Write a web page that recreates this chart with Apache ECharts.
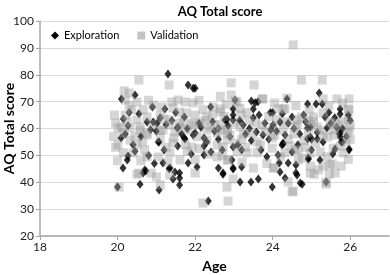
<!DOCTYPE html>
<html><head><meta charset="utf-8">
<script src="https://cdn.jsdelivr.net/npm/echarts@6/dist/echarts.min.js"></script>
<style>html,body{margin:0;padding:0;background:#fff}#c{width:390px;height:275px}</style>
</head><body><div id="c"></div>
<script>
var chartTitle = "AQ Total score";
var xName = "Age";
var yName = "AQ Total score";
var seriesNames = ["Exploration", "Validation"];
var xTicks = [18, 20, 22, 24, 26];
var yTicks = [20, 30, 40, 50, 60, 70, 80, 90, 100];

var exploration = [
[21.3,80.3],[21.82,76.2],[21.95,75],[20.45,72.5],[20.1,71],[22.0,75],[23.03,70.6],[23.45,70.2],[23.55,69.6],[23.62,70],
[23.94,66],[22.98,67.3],[22.98,65],[22.98,63.2],[25.2,73.2],[24.37,71],[24.9,69.1],[25.12,69.1],[25.28,69.1],[25.74,67.3],
[25.74,65.4],[24.5,64.3],[20.14,45.3],[20.25,48.3],[20.58,39.3],[21.07,37.1],[21.6,43.4],[21.6,41.6],[21.6,39],[21.43,41.2],
[21.33,45],[20.73,44.2],[20.0,38.2],[21.07,55],[21.82,47.2],[21.17,47.2],[22.34,33],[23.16,40.1],[23.44,40.1],[23.63,41.2],
[23.99,38.2],[22.72,43],[22.98,45.3],[22.6,45.3],[22.05,45.7],[24.76,39.3],[25.38,40.1],[24.6,43.4],[24.32,41.6],[25.22,48.3],
[25.97,52],[23.5,67.3],[25.35,64.3],[22.82,63.5],[23.75,57.6],[23.24,61.3],[24.9,60.2],[24.97,56.8],[25.74,58.3],[21.22,67.3],
[21.72,64.3],[20.27,61],[20.76,62.4],[20.92,62.4],[21.02,62],[21.54,60.2],[21.95,57.6],[20.09,56.5],[21.72,56.5],[22.23,56.5],
[22.8,63.2],[21.05,55],[21.56,60.6],[21.74,56.1],[22.0,58.3],[22.23,53.5],[22.41,51.3],[22.7,52],[22.23,50.1],[20.27,49.8],
[21.35,45.3],[21.48,43.8],[20.7,44.6],[20.66,43.4],[22.72,43.4],[22.77,63.2],[24.01,61.3],[24.19,62.4],[22.98,53.1],[23.2,52],
[22.95,48.3],[23.2,45.7],[22.98,44.9],[24.24,53.9],[24.5,51.3],[24.14,50.1],[24.17,47.2],[24.19,43.8],[24.4,47.2],[24.6,46.4],
[24.63,42.7],[24.92,48.6],[24.9,56.1],[25.15,56.1],[25.61,52.4],[25.97,52.4],[25.72,58],[25.8,55],[24.27,54.2],[24.32,57.6],
[23.58,58.7],[24.97,60.6],[25.4,60.2],[24.71,39.7],[25.0,56],[24.27,54.6],[24.92,49],[25.77,55],[25.74,56.8],
[20.2,58],[20.4,54],[20.6,57],[20.8,50],[21.0,59],[21.2,52],[21.4,63],[21.8,60],[22.1,62],[22.3,55],
[22.5,59],[22.9,57],[23.1,54],[23.3,58],[23.5,64],[23.7,52],[23.9,56],[24.1,59],[24.4,62],[24.7,58],
[25.0,52],[25.3,55],[25.5,62],[25.8,60],[26.0,63],[25.9,57],[20.3,66],[20.9,68],[21.5,66],[22.4,68],
[24.0,66],[24.8,65],[25.6,64],[22.6,60],[21.1,64],[23.8,62],
[20.15,63.5],[20.55,65.5],[20.85,59.5],[21.25,61.5],[21.65,58],[22.15,60.5],[22.45,62.5],[22.85,61],[23.15,63],[23.4,60],
[23.65,65],[23.95,59.5],[24.25,65.5],[24.55,60],[24.85,62.5],[25.15,58.5],[25.45,66],[25.65,60.5],[25.95,65],[20.45,51.5],
[21.55,53.5],[22.6,56],[23.45,55.5],[24.65,54],[25.55,50.5],[23.85,49.5],[21.9,50.5],[20.95,47]
];

var validation = [
[24.53,91.1],[20.55,78],[21.33,76.2],[20.17,74],[20.3,73.2],[22.93,77],[23.52,76.2],[22.65,72],[22.93,72.5],[23.08,69.9],
[23.75,71],[24.74,78],[25.28,78],[24.37,71.3],[25.66,71],[25.97,71],[24.27,67.3],[25.95,67.3],[20.5,43],[21.1,39],
[20.04,38.2],[22.2,32.3],[22.85,33],[22.82,38.2],[22.98,41.2],[24.04,45.3],[24.5,36.4],[25.38,40.1],[24.97,46],[25.3,46],
[25.54,46.8],[25.77,46],[25.07,43],[25.46,43],[24.4,40.1],[24.53,36.7],[25.38,39.3],[25.97,66.9],
[23.03,70.2],[23.73,71],[24.14,67.3],[24.32,67.3],[24.94,67],[25.3,71],[24.92,63.2],[25.95,63.2],[22.65,67.3],[23.34,66],
[23.19,65],[24.01,60.6],[24.63,63.2],[25.22,59.4],[25.61,62],[25.97,59.4],
[20.5,69.9],[20.2,70.6],[20.66,67],[20.92,68.7],[20.37,67],[20.2,65],[20.1,60.6],[20.5,63.2],[20.76,64.3],[21.1,65],
[21.4,69.9],[21.56,70.6],[21.74,69.9],[21.95,69.5],[21.43,67.6],[21.6,66.1],[21.78,65.8],[22.0,65],[22.3,64.3],
[21.35,63.2],[21.6,62],[21.92,62],[22.13,62],[22.44,65],[22.65,66.1],[22.46,68],[21.17,59.4],[21.48,58.7],[21.82,59.4],
[22.3,59.4],[22.57,58.3],[22.83,58.3],[20.14,58.3],[20.58,59.4],[20.76,57.6],
[20.01,60.2],[20.32,60.2],[20.58,60.6],[20.76,58.3],[21.1,59.4],[21.35,61.3],[21.61,60.2],[21.95,61.3],[22.39,60.6],[22.65,61.3],[22.83,59.4],
[20.01,53.9],[20.32,55.7],[20.5,53.9],[21.1,56.5],[21.43,54.6],[21.92,53.1],[22.3,55.7],[22.57,53.9],[22.83,55.7],
[20.4,50.9],[20.76,49.4],[21.05,49.4],[21.35,50.9],[21.61,48.3],[22.0,48.3],[22.57,49.4],[22.83,48.3],
[20.55,43.4],[20.87,43.4],[21.0,42],[21.35,42.7],[22.0,43.4],
[22.65,59.4],[22.9,57.6],[23.16,60.6],[23.47,58.3],[23.73,61.3],[23.99,56.5],[24.27,59.4],[24.63,61.3],[24.92,58.3],[25.15,60.6],[25.41,56.8],[25.69,61.3],[25.92,58.3],
[22.72,53.1],[23.08,51.3],[23.34,50.9],[23.68,53.9],[23.99,52.7],[24.32,50.9],[24.66,52],[24.97,50.9],[25.23,51.3],[25.56,52.7],[25.82,50.9],
[22.85,48.3],[23.21,47.5],[23.5,45.3],[24.01,45.3],[24.66,48.3],[24.97,43.4],[25.18,44.6],[25.48,46.4],[25.61,43.4],
[24.58,52],[24.76,49],[24.74,64.3],[25.05,64.3],[25.3,65.8],[25.48,62.4],[24.58,60.6],[24.97,61.3],
[19.95,53],[19.9,57],[19.95,62],[20.0,48],[19.92,65],[23.4,63],[23.9,64.5],[23.6,55],[24.4,56],[25.9,55],
[25.95,48.5],[26.0,61],[21.25,53],[21.8,51.5],[22.1,52.5],[20.7,52],[23.2,56],[24.1,63.5],[25.6,57.5],[22.2,67],
[20.25,62.5],[20.45,57],[20.65,55],[20.9,61.5],[21.2,63.5],[21.45,56.5],[21.7,62.5],[22.05,57],[22.25,63],[22.5,61.5],
[22.75,64.5],[23.0,62],[23.25,58],[23.55,62],[23.8,59],[24.05,57.5],[24.35,62.5],[24.55,58],[24.8,55.5],[25.05,62.5],
[25.3,57.5],[25.55,59.5],[25.8,62.5],[26.0,56],[20.15,51],[20.6,48],[21.3,47.5],[21.75,54],[22.35,50.5],[22.7,50],
[23.05,54.5],[23.3,53],[23.6,51],[23.85,47],[24.2,49.5],[24.45,53.5],[24.85,53],[25.1,54.5],[25.4,49.5],[25.75,53.5],
[20.3,68.5],[20.8,70.5],[21.15,68],[22.1,70.5],[23.15,67.5],[24.6,68.5],[25.45,68.5],[25.8,69.5],[24.05,69.5],[22.8,69]
];

var chart = echarts.init(document.getElementById('c'), null, {renderer: 'canvas'});
var font = 'Lato, "Liberation Sans", sans-serif';
chart.setOption({
  animation: false,
  backgroundColor: '#fff',
  title: {
    text: chartTitle, left: 215, top: 0, textAlign: 'center',
    textStyle: {fontFamily: font, fontWeight: 'bold', fontSize: 13, color: '#000'}
  },
  legend: {
    left: 46, top: 25, itemWidth: 8, itemHeight: 8, itemGap: 18,
    textStyle: {fontFamily: font, fontSize: 11, color: '#000'},
    data: [
      {name: seriesNames[0], icon: 'diamond', itemStyle: {color: '#000', opacity: 1}},
      {name: seriesNames[1], icon: 'rect', itemStyle: {color: '#c4c4c4', opacity: 1}}
    ]
  },
  grid: {left: 40, right: 1, top: 21, bottom: 39, outerBoundsMode: 'none', containLabel: false},
  xAxis: {
    type: 'value', min: 18, max: 27, interval: 2,
    name: xName, nameLocation: 'middle', nameGap: 23, nameMoveOverlap: false,
    nameTextStyle: {fontFamily: font, fontWeight: 'bold', fontSize: 14, color: '#000'},
    axisLine: {show: true, lineStyle: {color: '#a6a6a6', width: 1.5}},
    axisTick: {show: true, length: 4, lineStyle: {color: '#a6a6a6'}},
    axisLabel: {fontFamily: font, fontSize: 12, color: '#222', margin: 5, showMaxLabel: false},
    splitLine: {show: false}
  },
  yAxis: {
    type: 'value', min: 20, max: 100, interval: 10,
    name: yName, nameLocation: 'middle', nameGap: 24, nameMoveOverlap: false,
    nameTextStyle: {fontFamily: font, fontWeight: 'bold', fontSize: 14, color: '#000'},
    axisLine: {show: true, lineStyle: {color: '#a6a6a6', width: 1.5}},
    axisTick: {show: true, length: 4, lineStyle: {color: '#a6a6a6'}},
    axisLabel: {fontFamily: font, fontSize: 12, color: '#222', margin: 6},
    splitLine: {show: true, lineStyle: {color: '#d9d9d9', width: 1}}
  },
  series: [
    {name: seriesNames[0], type: 'scatter', data: exploration, symbol: 'diamond', symbolSize: [7, 9],
     itemStyle: {color: '#000'}, z: 2},
    {name: seriesNames[1], type: 'scatter', data: validation, symbol: 'rect', symbolSize: 9,
     itemStyle: {color: 'rgba(150,150,150,0.5)'}, z: 3}
  ]
});
</script></body></html>
